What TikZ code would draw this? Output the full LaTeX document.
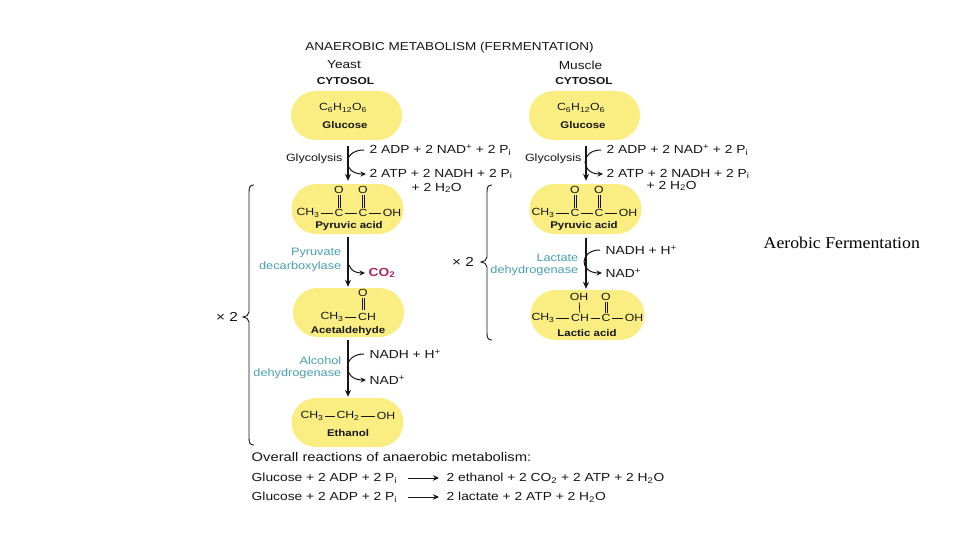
\documentclass[tikz,border=0pt]{standalone}
\usepackage{fontspec}
\setmainfont[FakeStretch=1.18]{Liberation Sans}
\newfontfamily\capfont[FakeStretch=1.075]{Liberation Serif}
\usetikzlibrary{shapes.misc,arrows.meta}
\definecolor{blob}{HTML}{FAEE82}
\definecolor{tealx}{HTML}{4A9FB5}
\definecolor{ink}{HTML}{161616}
\definecolor{magx}{HTML}{A8256E}
\newcommand{\sbs}[1]{\textsubscript{#1}}
\newcommand{\sps}[1]{\textsuperscript{#1}}
\newcommand{\dblbond}[2]{\draw[bond] ([xshift=-1.1pt]#1.south) -- ([xshift=-1.1pt]#2.north);\draw[bond] ([xshift=1.1pt]#1.south) -- ([xshift=1.1pt]#2.north);}
\tikzset{
 every node/.style={inner sep=0.5pt,text=ink,font=\fontsize{10.6}{12}\selectfont},
 blobshape/.style={rounded rectangle,fill=blob,minimum width=112,minimum height=49},
 labl/.style={font=\fontsize{10.6}{12}\selectfont},
 orgl/.style={font=\fontsize{11.6}{13}\selectfont},
 cname/.style={font=\fontsize{9.7}{11}\selectfont\bfseries},
 bigl/.style={font=\fontsize{11.7}{13}\selectfont,anchor=west},
 enz/.style={font=\fontsize{10.8}{13}\selectfont,text=tealx,anchor=east},
 chem/.style={font=\fontsize{10.4}{12}\selectfont},
 eqn/.style={font=\fontsize{11.7}{13}\selectfont,anchor=west},
 bond/.style={draw=ink,line width=0.7pt,shorten <=1pt,shorten >=1pt},
 flow/.style={draw=ink,line width=1.1pt,-{Stealth[length=7pt,width=6pt]}},
 sidearr/.style={draw=ink,line width=1pt,shorten <=5pt,shorten >=3pt,-{Stealth[length=5.5pt,width=5pt]}},
 overarr/.style={draw=ink,line width=1pt,-{Stealth[length=6pt,width=5.5pt]}},
 bracel/.style={draw=ink,line width=0.9pt},
}
\begin{document}
\begin{tikzpicture}[x=1pt,y=-1pt]
\useasboundingbox[fill=white] (0,0) rectangle (960,540);
% headings
\node[font=\fontsize{11.45}{13}\selectfont] (title) at (449.5,48) {ANAEROBIC METABOLISM (FERMENTATION)};
\node[orgl] (yeast) at (344,65) {Yeast};
\node[cname,font=\fontsize{10.1}{11}\selectfont\bfseries] (cytl) at (345.5,81) {CYTOSOL};
\node[orgl] (muscle) at (580.5,65) {Muscle};
\node[cname,font=\fontsize{10.1}{11}\selectfont\bfseries] (cytr) at (584,81) {CYTOSOL};
% blobs
\node[blobshape] (gl) at (346.5,115.5) {};
\node[blobshape,minimum width=113,minimum height=50] (pl) at (347.5,209) {};
\node[blobshape] (al) at (348.5,312.5) {};
\node[blobshape,minimum width=113] (el) at (347.5,422.5) {};
\node[blobshape] (gr) at (584.5,115.5) {};
\node[blobshape,minimum width=113,minimum height=50] (pr) at (585.5,209) {};
\node[blobshape,minimum width=115,minimum height=50] (lr) at (587.5,315) {};
% glucose
\node[chem] (gf1) at (343,108) {C\sbs{6}H\sbs{12}O\sbs{6}};
\node[cname] (gn1) at (345,125) {Glucose};
\node[chem] (gf2) at (581,108) {C\sbs{6}H\sbs{12}O\sbs{6}};
\node[cname] (gn2) at (583,125) {Glucose};
% pyruvic left
\node[chem] (p1a) at (308,213) {CH\sbs{3}};
\node[chem] (p1b) at (339,213) {C};
\node[chem] (p1c) at (363,213) {C};
\node[chem] (p1d) at (392,213) {OH};
\node[chem] (p1e) at (339,190) {O};
\node[chem] (p1f) at (363,190) {O};
\node[cname] (p1n) at (349,226) {Pyruvic acid};
\draw[bond] (p1a) -- (p1b);\draw[bond] (p1b) -- (p1c);\draw[bond] (p1c) -- (p1d);
\dblbond{p1e}{p1b}\dblbond{p1f}{p1c}
% pyruvic right
\node[chem] (p2a) at (543,213) {CH\sbs{3}};
\node[chem] (p2b) at (575,213) {C};
\node[chem] (p2c) at (599,213) {C};
\node[chem] (p2d) at (628,213) {OH};
\node[chem] (p2e) at (575,190) {O};
\node[chem] (p2f) at (599,190) {O};
\node[cname] (p2n) at (584,226) {Pyruvic acid};
\draw[bond] (p2a) -- (p2b);\draw[bond] (p2b) -- (p2c);\draw[bond] (p2c) -- (p2d);
\dblbond{p2e}{p2b}\dblbond{p2f}{p2c}
% acetaldehyde
\node[chem] (a1) at (332,317) {CH\sbs{3}};
\node[chem] (a2) at (367,317) {CH};
\node[chem] (a3) at (363,293) {O};
\node[cname] (an) at (348,331) {Acetaldehyde};
\draw[bond] (a1) -- (a2);
\coordinate (a2t) at (363,311);
\draw[bond] ([xshift=-1.1pt]a3.south) -- ([xshift=-1.1pt]a2t);
\draw[bond] ([xshift=1.1pt]a3.south) -- ([xshift=1.1pt]a2t);
% ethanol
\node[chem] (e1) at (312,416) {CH\sbs{3}};
\node[chem] (e2) at (348,416) {CH\sbs{2}};
\node[chem] (e3) at (386,416) {OH};
\node[cname] (en) at (348,433) {Ethanol};
\draw[bond] (e1) -- (e2);\draw[bond] (e2) -- (e3);
% lactic
\node[chem] (l1) at (543,318) {CH\sbs{3}};
\node[chem] (l2) at (580,318) {CH};
\node[chem] (l3) at (606,318) {C};
\node[chem] (l4) at (634,318) {OH};
\node[chem] (l5) at (579,297) {OH};
\node[chem] (l6) at (606,297) {O};
\node[cname] (ln) at (587,333) {Lactic acid};
\draw[bond] (l1) -- (l2);\draw[bond] (l2) -- (l3);\draw[bond] (l3) -- (l4);
\draw[bond] (l5) -- (l2);\dblbond{l6}{l3}
% main arrows
\draw[flow,shorten <=6pt,shorten >=3pt] ([xshift=1.5pt]gl.south) -- ([xshift=0.5pt]pl.north);
\draw[flow,shorten <=3pt,shorten >=1pt] ([xshift=0.5pt]pl.south) -- ([xshift=-0.5pt]al.north);
\draw[flow,shorten <=3pt,shorten >=1pt] ([xshift=-0.5pt]al.south) -- ([xshift=0.5pt]el.north);
\draw[flow,shorten <=6pt,shorten >=3pt] ([xshift=1.5pt]gr.south) -- ([xshift=0.5pt]pr.north);
\draw[flow,shorten <=4pt,shorten >=1pt] ([xshift=0.5pt]pr.south) -- ([xshift=-1.5pt]lr.north);
% left labels
\node[labl,anchor=east] (gly1) at (343,159) {Glycolysis};
\node[bigl] (adp1) at (369,150) {2 ADP + 2 NAD\sps{+} + 2 P\sbs{i}};
\node[bigl] (atp1) at (369,174) {2 ATP + 2 NADH + 2 P\sbs{i}};
\node[bigl] (wat1) at (411,188) {+ 2 H\sbs{2}O};
\draw[sidearr] (adp1.west) .. controls (342,150) and (342,174) .. (atp1.west);
\node[enz] (pd1) at (342,253) {Pyruvate};
\node[enz] (pd2) at (342,267) {decarboxylase};
\node[bigl,text=magx,font=\fontsize{11.7}{13}\selectfont\bfseries] (co2) at (368,273) {CO\sbs{2}};
\coordinate (co2s) at (349,265);
\draw[sidearr,shorten <=0pt] (co2s) .. controls (351,271) and (356,273) .. (co2.west);
\node[enz] (ad1) at (342,361) {Alcohol};
\node[enz] (ad2) at (342,374) {dehydrogenase};
\node[bigl] (nadh1) at (369,354) {NADH + H\sps{+}};
\node[bigl] (nad1) at (369,380) {NAD\sps{+}};
\draw[sidearr] (nadh1.west) .. controls (342,354) and (342,380) .. (nad1.west);
% right labels
\node[labl,anchor=east] (gly2) at (582,159) {Glycolysis};
\node[bigl] (adp2) at (606,150) {2 ADP + 2 NAD\sps{+} + 2 P\sbs{i}};
\node[bigl] (atp2) at (606,174) {2 ATP + 2 NADH + 2 P\sbs{i}};
\node[bigl] (wat2) at (646,186) {+ 2 H\sbs{2}O};
\draw[sidearr] (adp2.west) .. controls (580,150) and (580,174) .. (atp2.west);
\node[enz] (ld1) at (579,258) {Lactate};
\node[enz] (ld2) at (579,271) {dehydrogenase};
\node[bigl] (nadh2) at (605,250) {NADH + H\sps{+}};
\node[bigl] (nad2) at (605,273) {NAD\sps{+}};
\draw[sidearr] (nadh2.west) .. controls (579,250) and (579,273) .. (nad2.west);
% braces
\node[font=\fontsize{13}{14}\selectfont] (x1) at (227,317) {× 2};
\coordinate (b1t) at (254,185); \coordinate (b1b) at (254,445); \coordinate (b1m) at (243,317);
\draw[bracel] (b1t) .. controls (250,185) and (249,187) .. (249,192) -- (249,312) .. controls (249,315) and (246,317) .. (b1m) .. controls (246,317) and (249,319) .. (249,322) -- (249,438) .. controls (249,443) and (250,445) .. (b1b);
\node[font=\fontsize{13}{14}\selectfont] (x2) at (463,262) {× 2};
\coordinate (b2t) at (492,185); \coordinate (b2b) at (492,340); \coordinate (b2m) at (481,262);
\draw[bracel] (b2t) .. controls (488,185) and (487,187) .. (487,192) -- (487,257) .. controls (487,260) and (484,262) .. (b2m) .. controls (484,262) and (487,264) .. (487,267) -- (487,333) .. controls (487,338) and (488,340) .. (b2b);
% overall
\node[anchor=west,font=\fontsize{12.5}{14}\selectfont] (ov) at (251,457) {Overall reactions of anaerobic metabolism:};
\node[eqn] (r1l) at (251,478) {Glucose + 2 ADP + 2 P\sbs{i}};
\node[eqn] (r1r) at (446,478) {2 ethanol + 2 CO\sbs{2} + 2 ATP + 2 H\sbs{2}O};
\node[eqn] (r2l) at (251,497) {Glucose + 2 ADP + 2 P\sbs{i}};
\node[eqn] (r2r) at (446,497) {2 lactate + 2 ATP + 2 H\sbs{2}O};
\draw[overarr,shorten <=10pt,shorten >=7pt] (r1l.east) -- (r1r.west);
\draw[overarr,shorten <=10pt,shorten >=7pt] (r2l.east) -- (r2r.west);
% caption
\node[font=\capfont\fontsize{16.5}{18}\selectfont,text=black,anchor=west] (cap) at (763,243) {Aerobic Fermentation};
\end{tikzpicture}
\end{document}
